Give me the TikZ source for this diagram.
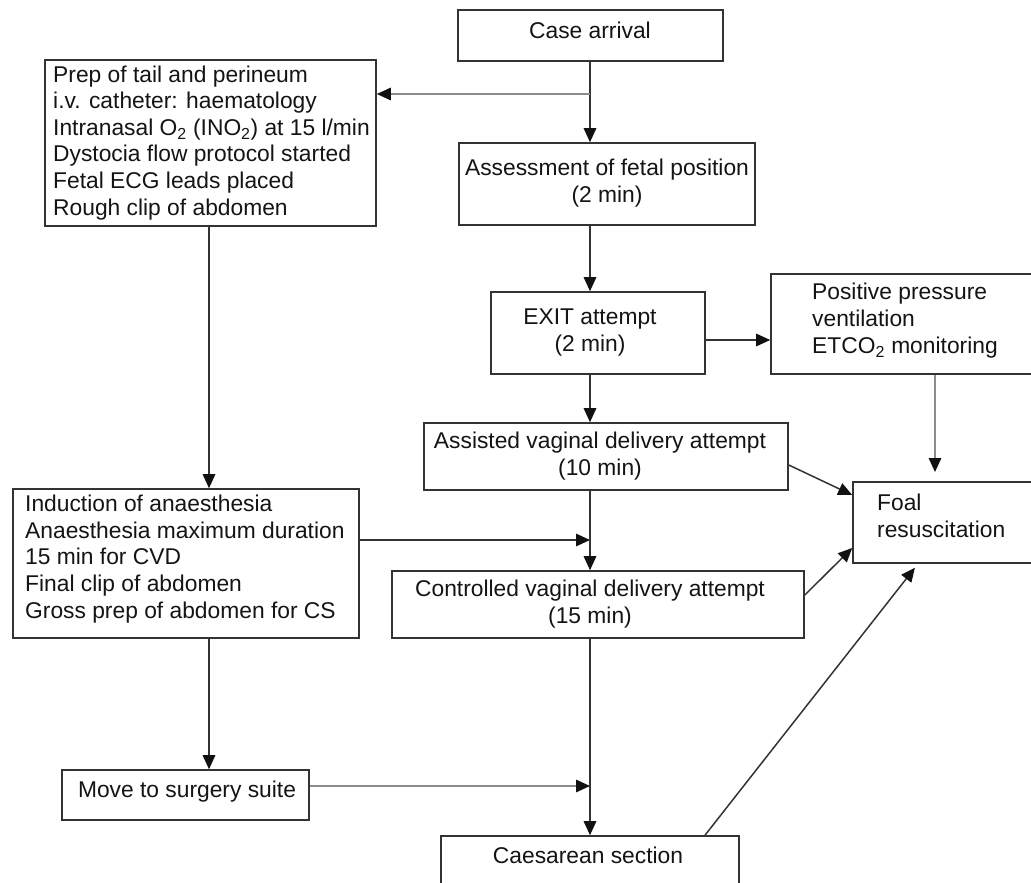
\documentclass[tikz,border=0pt]{standalone}
\usepackage{fontspec}
\setmainfont{Liberation Sans}
\usetikzlibrary{arrows.meta,fit}
\definecolor{ln}{HTML}{333333}
\definecolor{hd}{HTML}{111111}
\definecolor{lg}{HTML}{8C8C8C}
\definecolor{tx}{HTML}{141414}
\begin{document}
\begin{tikzpicture}[x=1pt,y=-1pt,
  box/.style={draw=ln, line width=1.6pt, inner sep=0pt, rectangle},
  txt/.style={font=\fontsize{22.8}{26.6}\selectfont, text=tx, inner sep=0pt},
  arr/.style={draw=ln, line width=1.5pt, -{Triangle[length=14pt,width=12.5pt,color=hd]}},
  garr/.style={arr, draw=lg}]
\useasboundingbox (0,0) rectangle (1031,883);
\clip (0,0) rectangle (1031,883);

% boxes
\node[box, fit={(458,10) (723,61)}] (case) {};
\node[box, fit={(45,60) (376,226)}] (prep) {};
\node[box, fit={(459,143) (755,225)}] (assess) {};
\node[box, fit={(491,292) (705,374)}] (exit) {};
\node[box, fit={(771,274) (1045,374)}] (ppv) {};
\node[box, fit={(424,423) (788,490)}] (assist) {};
\node[box, fit={(853,482) (1045,563)}] (foal) {};
\node[box, fit={(13,489) (359,638)}] (ind) {};
\node[box, fit={(392,571) (804,638)}] (ctrl) {};
\node[box, fit={(62,770) (309,820)}] (move) {};
\node[box, fit={(441,836) (739,900)}] (caes) {};

% texts (multi-line nodes are anchored at the baseline of their last line)
\node[txt, anchor=base] (caseT) at (590,39) {Case arrival};
\node[txt, anchor=base west, align=left] (prepT) at (53,215) {Prep of tail and perineum\\i.v. catheter: haematology\\Intranasal O\textsubscript{2} (INO\textsubscript{2}) at 15 l/min\\Dystocia flow protocol started\\Fetal ECG leads placed\\Rough clip of abdomen};
\node[txt, anchor=base, align=center] (assessT) at (607,202) {Assessment of fetal position\\(2 min)};
\node[txt, anchor=base, align=center] (exitT) at (590,351) {EXIT attempt\\(2 min)};
\node[txt, anchor=base west, align=left] (ppvT) at (812,353) {Positive pressure\\ventilation\\ETCO\textsubscript{2} monitoring};
\node[txt, anchor=base, align=center] (assistT) at (600,475) {Assisted vaginal delivery attempt\\(10 min)};
\node[txt, anchor=base west, align=left] (foalT) at (877,537) {Foal\\resuscitation};
\node[txt, anchor=base west, align=left] (indT) at (25,618) {Induction of anaesthesia\\Anaesthesia maximum duration\\15 min for CVD\\Final clip of abdomen\\Gross prep of abdomen for CS};
\node[txt, anchor=base, align=center] (ctrlT) at (590,623) {Controlled vaginal delivery attempt\\(15 min)};
\node[txt, anchor=base] (moveT) at (187,797) {Move to surgery suite};
\node[txt, anchor=base] (caesT) at (588,863) {Caesarean section};

% helper coordinates
\coordinate (sp) at (590,0);
\coordinate (lx) at (209,0);
\coordinate (pv) at (935,0);
\coordinate (br) at (590,94);
\coordinate (pvend) at (935,472);

% connectors
\draw[arr] (sp |- case.south) -- (sp |- assess.north);
\draw[garr] (br) -- (br -| prep.east);
\draw[arr] (sp |- assess.south) -- (sp |- exit.north);
\draw[arr] (exit.east |- 0,340) -- (ppv.west |- 0,340);
\draw[arr] (sp |- exit.south) -- (sp |- assist.north);
\draw[garr] (pv |- ppv.south) -- (pvend);
\draw[arr] (assist.east |- 0,465) -- (foal.west |- 0,495);
\draw[arr] (ind.east |- 0,540) -- (sp |- 0,540);
\draw[arr] (sp |- assist.south) -- (sp |- ctrl.north);
\draw[arr] (ctrl.east |- 0,595) -- (foal.west |- 0,548);
\draw[arr] (lx |- prep.south) -- (lx |- ind.north);
\draw[arr] (lx |- ind.south) -- (lx |- move.north);
\draw[garr] (move.east |- 0,786) -- (sp |- 0,786);
\draw[arr] (sp |- ctrl.south) -- (sp |- caes.north);
\draw[arr, shorten >=5pt] (caes.north -| 705,0) -- (foal.south -| 918,0);
\end{tikzpicture}
\end{document}
